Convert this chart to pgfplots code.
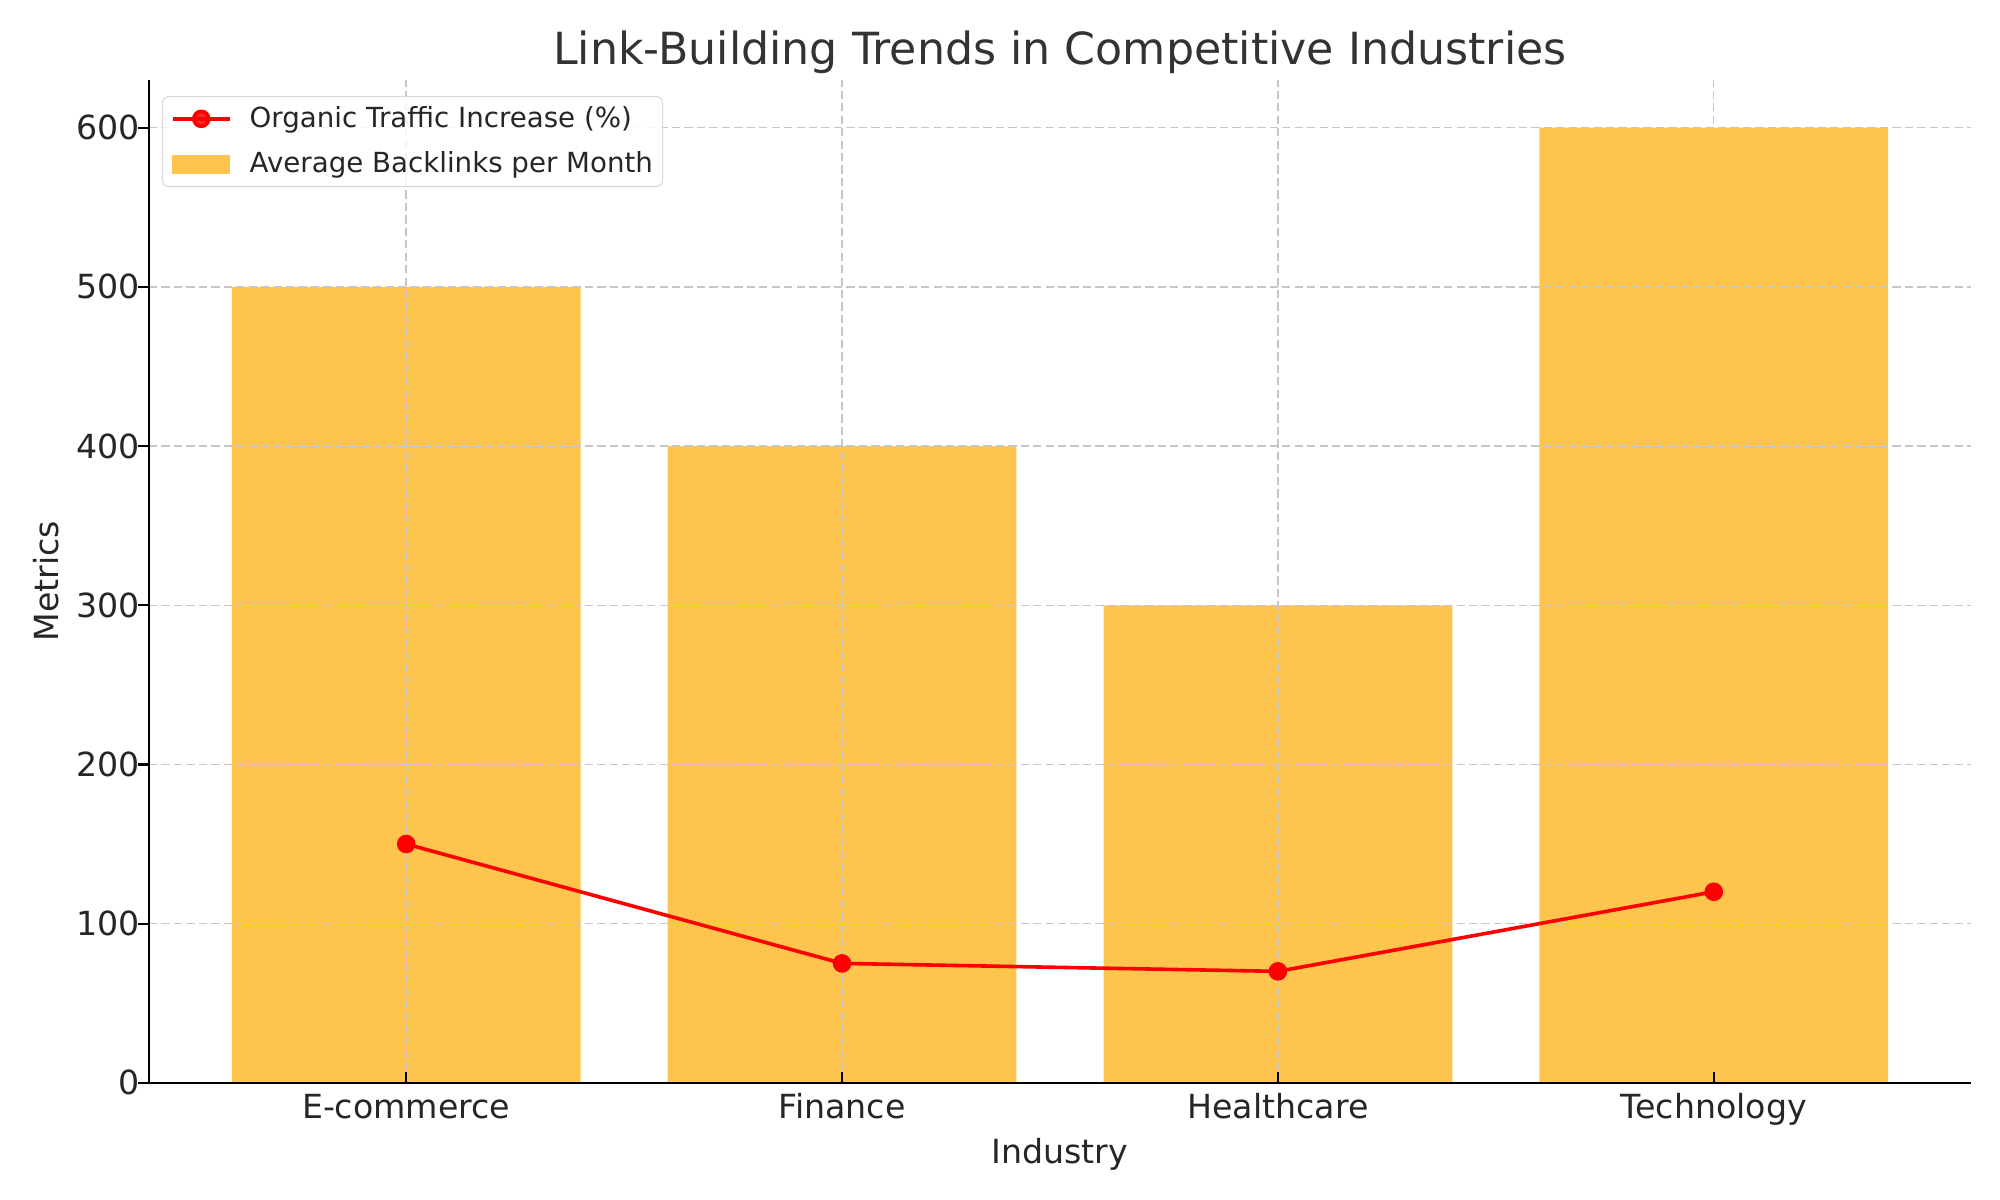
\documentclass[border=0pt]{standalone}
\usepackage{pgfplots}
\pgfplotsset{compat=1.18}
\usepackage{fontspec}
\setmainfont{DejaVu Sans}
\definecolor{barc}{RGB}{253,196,78}
\definecolor{txt}{RGB}{38,38,38}
\definecolor{ttl}{RGB}{51,51,51}
\pgfplotstableread{
x val
0 500
1 400
2 300
3 600
}\bars
\pgfplotstableread{
x val
0 150
1 75
2 70
3 120
}\traffic
\pgfplotsset{
  common/.style={
    scale only axis, width=658.4pt, height=362.4pt,
    xmin=-0.59, xmax=3.59, ymin=0, ymax=630,
  },
  lineleg/.style={legend image code/.code={\draw[mark repeat=2, mark phase=2, ##1, sharp corners] plot coordinates {(0pt,0pt) (10.35pt,0pt) (20.7pt,0pt)};}},
  barleg/.style={legend image code/.code={\fill[barc, sharp corners, fill opacity=1] (0pt,-3.2pt) rectangle (20.7pt,3.2pt);}},
}
\begin{document}
\begin{tikzpicture}
\begin{axis}[
  common,
  xtick={0,1,2,3},
  xticklabels={E-commerce,Finance,Healthcare,Technology},
  ytick={0,100,...,600},
  axis x line*=bottom, axis y line*=left,
  axis line style={line width=0.8pt, black},
  tick align=outside, major tick length=4pt,
  tick style={black, line width=0.8pt},
  xtick style={yshift=4pt},
  grid=major,
  major grid style={gray!45, line width=0.5pt, dash pattern=on 3pt off 1.5pt},
  axis on top,
  /pgf/number format/assume math mode=true,
  ticklabel style={font=\fontsize{12}{14}\selectfont, text=txt},
  xticklabel style={anchor=base, inner sep=0pt, yshift=-8.8pt},
  yticklabel style={anchor=east, inner sep=0pt, xshift=0.8pt},
  xlabel={Industry}, ylabel={Metrics},
  label style={font=\fontsize{12}{14}\selectfont, text=txt},
  xlabel style={at={(axis description cs:0.5,-0.0808)}, anchor=base},
  ylabel style={at={(axis description cs:-0.0499,0.5)}, anchor=base},
  title={Link-Building Trends in Competitive Industries},
  title style={at={(axis description cs:0.5,0.999)}, anchor=base, font=\fontsize{16}{19}\selectfont, text=ttl},
]
\addplot[ybar, bar width=0.8, bar shift=0pt, fill=barc, draw=none] table[x=x, y=val] {\bars};
\end{axis}
\begin{axis}[
  common,
  hide axis,
  legend cell align=left,
  legend style={at={(0,1)}, anchor=north west, xshift=4.7pt, yshift=-5.8pt,
    draw=gray!30, rounded corners=2pt, fill=white, fill opacity=0.85, text opacity=1,
    font=\fontsize{10}{12}\selectfont, text=txt,
    inner xsep=3pt, inner ysep=3pt, row sep=6.3pt, column sep=6pt,
    nodes={inner sep=0.5pt}},
]
\addplot[red, line width=1.3pt, mark=*, mark size=2.7pt, mark options={solid, fill=red, draw=red}, lineleg]
  table[x=x, y=val] {\traffic};
\addlegendentry{Organic Traffic Increase (\%)}
\addlegendimage{barleg}
\addlegendentry{Average Backlinks per Month}
\end{axis}
\pgfresetboundingbox
\path ([shift={(-53.84pt,-42.3pt)}]current axis.south west) rectangle ([shift={(10.5pt,28.9pt)}]current axis.north east);
\end{tikzpicture}
\end{document}
